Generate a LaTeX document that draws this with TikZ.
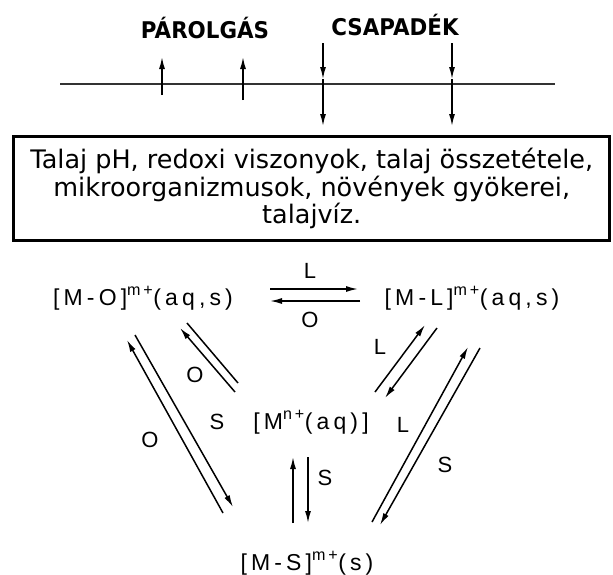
\documentclass[tikz,border=0pt]{standalone}
\usepackage{fontspec}
\usepackage{graphicx}
\setmainfont{DejaVu Sans}
\newfontfamily\chemfont{Liberation Sans}[LetterSpace=18]
\newfontfamily\lblfont{Liberation Sans}
\usetikzlibrary{arrows.meta}
\begin{document}
\begin{tikzpicture}[x=1pt,y=-1pt,
  tip/.style={-{Latex[length=12pt,width=6pt]}},
  ln/.style={line width=1.5pt},
  chem/.style={font=\chemfont\fontsize{23}{26}\selectfont, inner sep=0pt, anchor=base},
  lbl/.style={font=\lblfont\fontsize{22}{26}\selectfont, inner sep=0pt},
  toplbl/.style={font=\bfseries\fontsize{23}{26}\selectfont, inner sep=0pt},
  boxtext/.style={draw, line width=2.8pt, font=\fontsize{25.5}{27.5}\selectfont, align=center,
    minimum width=596pt, minimum height=104pt, inner sep=0pt}
]
\useasboundingbox (0,0) rectangle (613,574);

% top: surface line, evaporation and precipitation
\node[toplbl] (par) at (205,28) {\scalebox{0.93}[1]{PÁROLGÁS}};
\node[toplbl] (csa) at (395,25) {\scalebox{0.93}[1]{CSAPADÉK}};
\coordinate (sL) at (60,84);
\coordinate (sR) at (555,84);
\draw[line width=2pt, black!80] (sL) -- (sR);
\coordinate (u1a) at (162,95); \coordinate (u1b) at (162,57);
\coordinate (u2a) at (243,100); \coordinate (u2b) at (243,57);
\draw[ln,tip] (u1a) -- (u1b);
\draw[ln,tip] (u2a) -- (u2b);
\coordinate (d1a) at (323,43); \coordinate (d1m) at (323,79); \coordinate (d1b) at (323,126);
\coordinate (d2a) at (452,43); \coordinate (d2m) at (452,79); \coordinate (d2b) at (452,126);
\draw[ln,tip] (d1a) -- (d1m);
\draw[ln,tip] (d1m) -- (d1b);
\draw[ln,tip] (d2a) -- (d2m);
\draw[ln,tip] (d2m) -- (d2b);

% box
\node[boxtext] (box) at (311.75,188.5) {Talaj pH, redoxi viszonyok, talaj összetétele,\\
mikroorganizmusok, növények gyökerei,\\talajvíz.};

% species
\node[chem] (MO) at (143,305) {[M-O]\textsuperscript{m+}(aq,s)};
\node[chem] (ML) at (472,305) {[M-L]\textsuperscript{m+}(aq,s)};
\node[chem] (MA) at (311,429) {[M\textsuperscript{n+}(aq)]};
\node[chem] (MS) at (307,570) {[M-S]\textsuperscript{m+}(s)};

% horizontal equilibrium
\coordinate (h1a) at (270,289); \coordinate (h1b) at (358,289);
\coordinate (h2a) at (360,301); \coordinate (h2b) at (270,301);
\draw[ln,tip] (h1a) -- (h1b);
\draw[ln,tip] (h2a) -- (h2b);
\node[lbl] (lL) at (310,271) {L};
\node[lbl] (lO) at (310,320) {O};

% left outer pair
\coordinate (lo1a) at (223,513); \coordinate (lo1b) at (127,340);
\coordinate (lo2a) at (135,335); \coordinate (lo2b) at (233,507);
\draw[ln,tip] (lo1a) -- (lo1b);
\draw[ln,tip] (lo2a) -- (lo2b);
\node[lbl] (oO) at (150,440) {O};
\node[lbl] (oS) at (217,422) {S};

% left inner pair
\coordinate (li1a) at (235,392); \coordinate (li1b) at (180,328);
\coordinate (li2a) at (187,323); \coordinate (li2b) at (238,383);
\draw[ln,tip] (li1a) -- (li1b);
\draw[ln] (li2a) -- (li2b);
\node[lbl] (iO) at (195,375) {O};

% right inner pair
\coordinate (ri1a) at (375,392); \coordinate (ri1b) at (425,325);
\coordinate (ri2a) at (437,328); \coordinate (ri2b) at (385,398);
\draw[ln,tip] (ri1a) -- (ri1b);
\draw[ln,tip] (ri2a) -- (ri2b);
\node[lbl] (iL) at (380,347) {L};

% right outer pair
\coordinate (ro1a) at (372,522); \coordinate (ro1b) at (468,347);
\coordinate (ro2a) at (480,348); \coordinate (ro2b) at (380,525);
\draw[ln,tip] (ro1a) -- (ro1b);
\draw[ln,tip] (ro2a) -- (ro2b);
\node[lbl] (oL) at (403,425) {L};
\node[lbl] (oS2) at (445,465) {S};

% vertical pair
\coordinate (v1a) at (293,523); \coordinate (v1b) at (293,457);
\coordinate (v2a) at (308,457); \coordinate (v2b) at (308,523);
\draw[ln,tip] (v1a) -- (v1b);
\draw[ln,tip] (v2a) -- (v2b);
\node[lbl] (vS) at (325,478) {S};
\end{tikzpicture}
\end{document}
